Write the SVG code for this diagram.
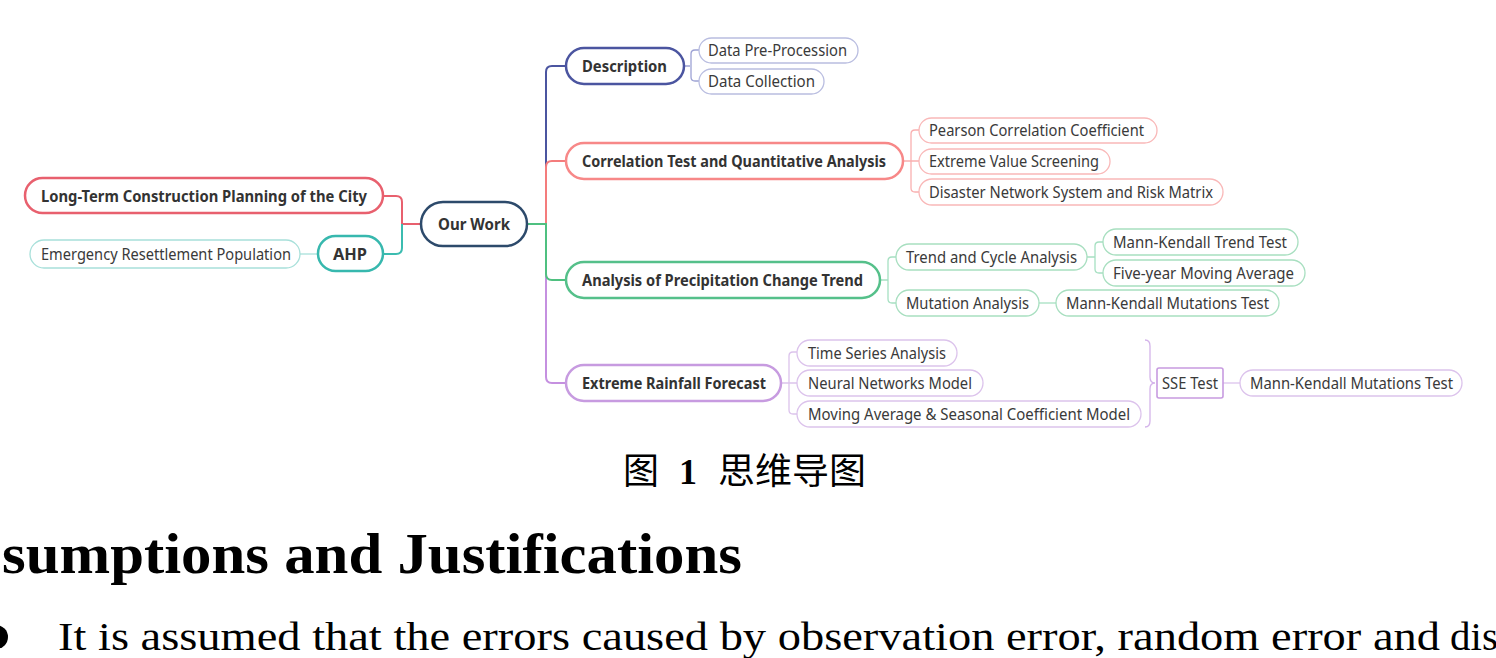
<svg xmlns="http://www.w3.org/2000/svg" width="1496" height="658" viewBox="0 0 1496 658">
<style>
.t{font-family:"Noto Sans","Open Sans","Liberation Sans",sans-serif;font-size:16px;fill:#3a3a3a}
.b{font-weight:bold;fill:#333}
.m{stroke-width:2.5;fill:#fff}
.c{stroke-width:1.3;fill:#fff}
.ln{fill:none;stroke-width:2}
.sl{fill:none;stroke-width:1.3}
</style>
<rect width="1496" height="658" fill="#fff"/>
<g id="connectors">
  <path class="ln" stroke="#e8606e" d="M421,224 H402 V202 Q402,196 396,196 H383"/>
  <path class="ln" stroke="#3bbcb0" d="M402,224 V248 Q402,254 396,254 H383"/>
  <path class="sl" stroke="#a8e0da" d="M300,254 H318"/>
  <path class="ln" stroke="#4b55a0" d="M527,224 H546 V72 Q546,66 552,66 H566"/>
  <path class="ln" stroke="#c590e0" d="M527,224 H546 V377 Q546,383 552,383 H566"/>
  <path class="ln" stroke="#f47c7c" d="M527,224 H546 V167 Q546,161 552,161 H566"/>
  <path class="ln" stroke="#4fc080" d="M527,224 H546 V274 Q546,280 552,280 H566"/>
  <path class="sl" stroke="#9da2d4" d="M684,66 H690 M699,50 H695 Q691,50 691,54 V77 Q691,81 695,81 H699"/>
  <path class="sl" stroke="#f9b0b0" d="M903,161 H919 M919,130 H915 Q911,130 911,134 V188 Q911,192 915,192 H919"/>
  <path class="sl" stroke="#a6e0c2" d="M880,280 H888 M896,257 H892 Q888,257 888,261 V299 Q888,303 892,303 H896"/>
  <path class="sl" stroke="#a6e0c2" d="M1087,257 H1095 M1103,242 H1099 Q1095,242 1095,246 V269 Q1095,273 1099,273 H1103"/>
  <path class="sl" stroke="#a6e0c2" d="M1039,303 H1056"/>
  <path class="sl" stroke="#dcc3ec" d="M781,383 H797 M797,352 H793 Q789,352 789,356 V410 Q789,414 793,414 H797"/>
  <path class="sl" stroke="#d4b4ea" d="M1145,340 Q1150,340 1150,346 V377 Q1150,383 1155,383 Q1150,383 1150,389 V421 Q1150,427 1145,427"/>
  <path class="sl" stroke="#dcc3ec" d="M1223,383 H1240"/>
</g>
<g id="n-ourwork"><rect class="m" x="421" y="202" width="106" height="44" rx="22" stroke="#2d4a6b"/><text class="t b" x="438" y="230" textLength="72" lengthAdjust="spacingAndGlyphs">Our Work</text></g>
<g id="n-longterm"><rect class="m" x="25" y="178" width="358" height="35" rx="17.5" stroke="#e8606e"/><text class="t b" x="41" y="201.5" textLength="326" lengthAdjust="spacingAndGlyphs">Long-Term Construction Planning of the City</text></g>
<g id="n-ahp"><rect class="m" x="318" y="236" width="65" height="35" rx="17.5" stroke="#37b8ae"/><text class="t b" x="333" y="259.5" textLength="34" lengthAdjust="spacingAndGlyphs">AHP</text></g>
<g id="n-emergency"><rect class="c" x="30" y="240" width="270" height="28" rx="14" stroke="#a8e0da"/><text class="t" x="41" y="259.5" textLength="250" lengthAdjust="spacingAndGlyphs">Emergency Resettlement Population</text></g>
<g id="n-description"><rect class="m" x="566" y="48" width="118" height="36" rx="18" stroke="#4b55a0"/><text class="t b" x="582" y="71.5" textLength="85" lengthAdjust="spacingAndGlyphs">Description</text></g>
<g id="n-preproc"><rect class="c" x="699" y="38" width="159" height="25" rx="12.5" stroke="#b9bde0"/><text class="t" x="708" y="56" textLength="139" lengthAdjust="spacingAndGlyphs">Data Pre-Procession</text></g>
<g id="n-collect"><rect class="c" x="699" y="69" width="125" height="25" rx="12.5" stroke="#b9bde0"/><text class="t" x="708" y="87" textLength="107" lengthAdjust="spacingAndGlyphs">Data Collection</text></g>
<g id="n-correlation"><rect class="m" x="566" y="143" width="337" height="36" rx="18" stroke="#f78888"/><text class="t b" x="582" y="166.5" textLength="304" lengthAdjust="spacingAndGlyphs">Correlation Test and Quantitative Analysis</text></g>
<g id="n-pearson"><rect class="c" x="919" y="118" width="238" height="25" rx="12.5" stroke="#f9b8b8"/><text class="t" x="929" y="136" textLength="215" lengthAdjust="spacingAndGlyphs">Pearson Correlation Coefficient</text></g>
<g id="n-extremevalue"><rect class="c" x="919" y="149" width="191" height="25" rx="12.5" stroke="#f9b8b8"/><text class="t" x="929" y="167" textLength="170" lengthAdjust="spacingAndGlyphs">Extreme Value Screening</text></g>
<g id="n-disaster"><rect class="c" x="919" y="179" width="304" height="26" rx="13" stroke="#f9b8b8"/><text class="t" x="929" y="197.5" textLength="284" lengthAdjust="spacingAndGlyphs">Disaster Network System and Risk Matrix</text></g>
<g id="n-analysis"><rect class="m" x="566" y="262" width="314" height="36" rx="18" stroke="#55c08a"/><text class="t b" x="582" y="285.5" textLength="281" lengthAdjust="spacingAndGlyphs">Analysis of Precipitation Change Trend</text></g>
<g id="n-trendcycle"><rect class="c" x="896" y="244" width="191" height="26" rx="13" stroke="#a8dfc0"/><text class="t" x="906" y="262.5" textLength="171" lengthAdjust="spacingAndGlyphs">Trend and Cycle Analysis</text></g>
<g id="n-mutation"><rect class="c" x="896" y="290" width="143" height="26" rx="13" stroke="#a8dfc0"/><text class="t" x="906" y="308.5" textLength="123" lengthAdjust="spacingAndGlyphs">Mutation Analysis</text></g>
<g id="n-mktrend"><rect class="c" x="1103" y="229" width="195" height="26" rx="13" stroke="#a8dfc0"/><text class="t" x="1113" y="247.5" textLength="174" lengthAdjust="spacingAndGlyphs">Mann-Kendall Trend Test</text></g>
<g id="n-fiveyear"><rect class="c" x="1103" y="260" width="202" height="26" rx="13" stroke="#a8dfc0"/><text class="t" x="1113" y="278.5" textLength="181" lengthAdjust="spacingAndGlyphs">Five-year Moving Average</text></g>
<g id="n-mkmut1"><rect class="c" x="1056" y="290" width="223" height="26" rx="13" stroke="#a8dfc0"/><text class="t" x="1066" y="308.5" textLength="203" lengthAdjust="spacingAndGlyphs">Mann-Kendall Mutations Test</text></g>
<g id="n-extreme"><rect class="m" x="566" y="365" width="215" height="36" rx="18" stroke="#c79be0"/><text class="t b" x="582" y="388.5" textLength="184" lengthAdjust="spacingAndGlyphs">Extreme Rainfall Forecast</text></g>
<g id="n-timeseries"><rect class="c" x="797" y="340" width="160" height="26" rx="13" stroke="#dcc3ec"/><text class="t" x="808" y="358.5" textLength="138" lengthAdjust="spacingAndGlyphs">Time Series Analysis</text></g>
<g id="n-neural"><rect class="c" x="797" y="370" width="186" height="26" rx="13" stroke="#dcc3ec"/><text class="t" x="808" y="388.5" textLength="164" lengthAdjust="spacingAndGlyphs">Neural Networks Model</text></g>
<g id="n-movingavg"><rect class="c" x="797" y="401" width="344" height="26" rx="13" stroke="#dcc3ec"/><text class="t" x="808" y="419.5" textLength="322" lengthAdjust="spacingAndGlyphs">Moving Average &amp; Seasonal Coefficient Model</text></g>
<g id="n-sse"><rect x="1157" y="368" width="66" height="30" rx="2" fill="#fff" stroke="#c79be0" stroke-width="1.6"/><text class="t" x="1162" y="389" textLength="56" lengthAdjust="spacingAndGlyphs">SSE Test</text></g>
<g id="n-mkmut2"><rect class="c" x="1240" y="370" width="222" height="26" rx="13" stroke="#dcc3ec"/><text class="t" x="1250" y="388.5" textLength="203" lengthAdjust="spacingAndGlyphs">Mann-Kendall Mutations Test</text></g>
<text y="484" font-family="'Liberation Serif','Noto Sans CJK SC',serif" font-size="36" fill="#000"><tspan x="623">图</tspan><tspan x="679" font-weight="bold">1</tspan><tspan x="718" textLength="148" lengthAdjust="spacingAndGlyphs">思维导图</tspan></text>
<text x="2" y="573" font-family="'Liberation Serif',serif" font-weight="bold" font-size="57" fill="#000" textLength="740" lengthAdjust="spacingAndGlyphs">sumptions and Justifications</text>
<circle cx="-4" cy="637" r="12" fill="#000"/>
<text y="650" font-family="'Liberation Serif',serif" font-size="41" fill="#000"><tspan x="58" textLength="1382" lengthAdjust="spacingAndGlyphs">It is assumed that the errors caused by observation error, random error and</tspan><tspan x="1450">dis</tspan></text>
</svg>
